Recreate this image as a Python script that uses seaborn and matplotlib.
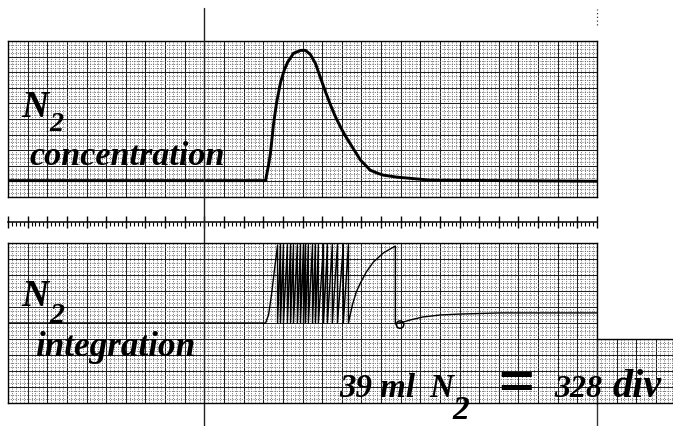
import matplotlib
matplotlib.use("Agg")
import matplotlib.pyplot as plt
from matplotlib.ticker import MultipleLocator
import seaborn as sns

# values in chart-paper divisions (x: 30 per panel, y: 10 per panel)
conc_x = [0.0, 13.12, 13.27, 13.37, 13.52, 13.68, 13.88, 14.08, 14.24, 14.54, 14.90,
          15.15, 15.40, 15.66, 15.91, 16.17, 16.42, 16.68, 16.93, 17.18, 17.44,
          17.69, 17.95, 18.20, 18.45, 18.81, 19.12, 19.83, 21.50, 30.0]
conc_y = [1.05, 1.05, 2.05, 2.82, 4.63, 6.05, 7.34, 8.17, 8.63, 9.21, 9.40,
          9.40, 9.14, 8.56, 7.66, 6.75, 5.92, 5.14, 4.50, 3.92, 3.40,
          2.89, 2.37, 2.05, 1.72, 1.53, 1.40, 1.27, 1.08, 1.01]

# integrator trace: baseline, first rise, resets, last rise, tail
tooth_lo, tooth_hi = 5.0, 9.9
first_rise_x = [13.12, 13.27, 13.42, 13.57, 13.73]
first_rise_y = [5.0, 5.5, 6.75, 8.3, 9.88]
reset_x = [13.73, 13.88, 14.03, 14.23, 14.39, 14.54, 14.74, 14.90, 15.05, 15.15,
           15.30, 15.51, 15.66, 15.81, 16.07, 16.27, 16.52, 16.78, 17.08, 17.34]
last_rise_x = [17.34, 17.54, 17.74, 17.95, 18.25, 18.61, 19.12, 19.47, 19.73]
last_rise_y = [5.0, 6.13, 6.94, 7.5, 8.19, 8.81, 9.38, 9.63, 9.81]
tail_x = [19.73, 20.13, 20.49, 21.15, 22.01, 23.03, 25.06, 30.0]
tail_y = [4.94, 5.06, 5.19, 5.38, 5.50, 5.56, 5.63, 5.63]
loop_x, loop_y = [19.97], [4.9]

marker_div = 10

W, H = 673, 426
sns.set_theme(style="white")
plt.rcParams["font.family"] = ["Liberation Serif", "DejaVu Serif"]

fig = plt.figure(figsize=(W / 100, H / 100), dpi=100)
fig.patch.set_facecolor("white")


def rect(x0, y0, x1, y1):
    return [x0 / W, 1 - y1 / H, (x1 - x0) / W, (y1 - y0) / H]


def chart_paper(ax, xlim, ylim):
    ax.set_facecolor("none")
    ax.set_xlim(*xlim)
    ax.set_ylim(*ylim)
    ax.xaxis.set_major_locator(MultipleLocator(1))
    ax.xaxis.set_minor_locator(MultipleLocator(0.2))
    ax.yaxis.set_major_locator(MultipleLocator(1))
    ax.yaxis.set_minor_locator(MultipleLocator(0.25))
    ax.grid(which="major", color="#1e1e1e", lw=0.75)
    ax.grid(which="minor", color="#6a6a6a", lw=0.7, ls=(0, (1, 1.4)))
    ax.tick_params(which="both", length=0, labelbottom=False, labelleft=False)
    for s in ax.spines.values():
        s.set_color("black")
        s.set_linewidth(1.0)
    ax.set_xlabel("")
    ax.set_ylabel("")


top = fig.add_axes(rect(8, 41, 597, 197))
chart_paper(top, (0, 30), (0, 10))
sns.lineplot(x=conc_x, y=conc_y, ax=top, color="black", lw=2.1,
             sort=False, estimator=None)
top.set(xlabel="", ylabel="")

# timing strip
strip = fig.add_axes(rect(8, 208, 597, 222))
strip.set_facecolor("none")
strip.set_xlim(0, 30)
for k in ["top", "left", "right"]:
    strip.spines[k].set_visible(False)
strip.spines["bottom"].set_color("black")
strip.spines["bottom"].set_linewidth(1.1)
strip.xaxis.set_major_locator(MultipleLocator(1))
strip.xaxis.set_minor_locator(MultipleLocator(0.2))
strip.tick_params(axis="x", which="major", bottom=True, direction="inout", length=8,
                  width=1.0, color="black", labelbottom=False)
strip.tick_params(axis="x", which="minor", bottom=True, direction="out", length=2.8,
                  width=0.8, color="black")
strip.tick_params(axis="y", left=False, labelleft=False)

bot = fig.add_axes(rect(8, 243, 597, 403))
chart_paper(bot, (0, 30), (0, 10))

int_x = [0.0] + first_rise_x + [reset_x[0]]
int_y = [tooth_lo] + first_rise_y + [tooth_lo]
for x in reset_x[1:]:
    int_x += [x, x]
    int_y += [tooth_hi, tooth_lo]
int_x += last_rise_x[1:] + tail_x
int_y += last_rise_y[1:] + tail_y
sns.lineplot(x=int_x, y=int_y, ax=bot, color="black", lw=1.0,
             sort=False, estimator=None)
sns.scatterplot(x=loop_x, y=loop_y, ax=bot, marker="o", s=28,
                facecolor="none", edgecolor="black", linewidth=1.1)
bot.set(xlabel="", ylabel="")

ext = fig.add_axes(rect(597, 339, 673, 403))
chart_paper(ext, (30, 30 + 76 / 19.63), (0, 4))
ext.spines["left"].set_visible(False)
ext.spines["right"].set_visible(False)

# long event marker and paper edges
bot.axvline(marker_div, ymin=(403 - 426) / 160, ymax=(403 - 8) / 160,
            clip_on=False, color="#222222", lw=1.0)
bot.axvline(30, ymin=(403 - 426) / 160, ymax=0, clip_on=False,
            color="#333333", lw=1.0)
top.axvline(30, ymin=(197 - 25) / 156, ymax=(197 - 9) / 156, clip_on=False,
            color="#333333", lw=0.9, ls=(0, (1, 2)))

renderer = fig.canvas.get_renderer()


def label(x, y, s, size=None, width=None, va="baseline"):
    t = fig.text(x / W, 1 - y / H, s, fontsize=size or 20, fontweight="bold",
                 fontstyle="italic", color="black", va=va, ha="left")
    if width:
        w = t.get_window_extent(renderer).width
        t.set_fontsize(20 * width / w)
    return t


label(21, 117, "N", width=27)
label(49, 131, "2", width=14)
label(30, 165, "concentration", width=195)
label(21, 306, "N", width=27)
label(49, 323, "2", width=15)
label(35, 356, "integration", width=160)
label(339, 397, "39 ml", width=76)
label(429, 397, "N", width=24)
label(452, 419, "2", size=24)
label(497, 387, "=", width=37, va="center")
label(554, 397, "328", size=23)
label(613, 397, "div", size=29)

fig.savefig("out.png", dpi=100, facecolor="white")
